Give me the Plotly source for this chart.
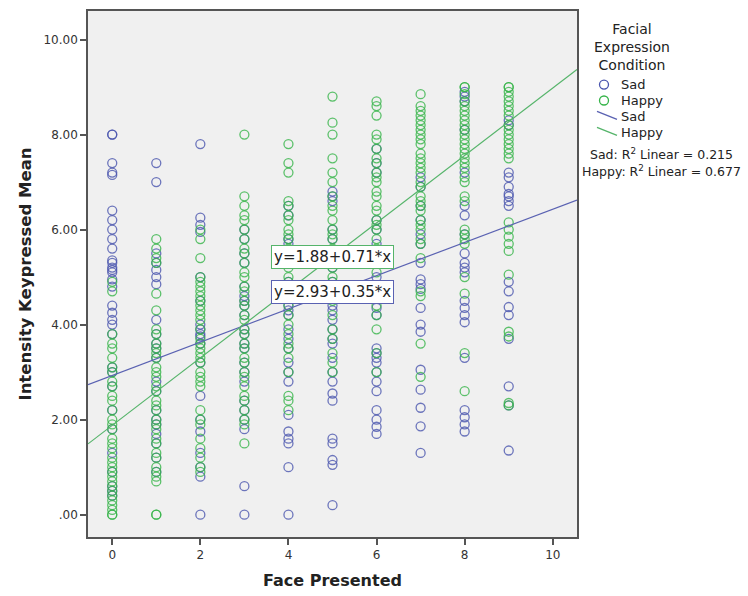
import plotly.graph_objects as go

# ---------------- data ----------------
face_levels = [0, 1, 2, 3, 4, 5, 6, 7, 8, 9]

sad_values = [
    [8.0, 8.0, 7.4, 7.2, 7.15, 6.4, 6.2, 6.0, 5.8, 5.6, 5.35, 5.3, 5.2, 5.15, 5.1, 4.95, 4.8, 4.4,
     4.25, 4.1, 4.0, 3.8, 3.1, 3.0, 2.7, 2.2, 1.8, 1.3, 0.9, 0.6, 0.5, 0.4],
    [7.4, 7.0, 5.5, 5.3, 5.15, 5.0, 4.85, 4.1, 3.8, 3.6, 3.5, 3.3, 2.8, 2.6, 2.2, 2.0, 1.9, 1.7,
     1.5, 1.2, 0.9],
    [7.8, 6.25, 6.1, 5.95, 5.0, 4.5, 4.0, 3.9, 3.8, 3.75, 3.6, 3.2, 2.5, 2.0, 1.75, 1.3, 1.0, 0.8, 0.0],
    [6.0, 5.8, 5.5, 5.3, 4.8, 4.6, 4.5, 4.4, 4.2, 3.9, 3.8, 3.6, 3.5, 3.2, 3.0, 2.8, 2.4, 2.2, 2.0,
     1.8, 0.6, 0.0],
    [6.5, 6.3, 5.8, 5.7, 5.5, 5.3, 4.9, 4.8, 4.6, 4.4, 4.3, 4.2, 3.9, 3.7, 3.5, 3.2, 3.0, 2.8, 2.1,
     1.75, 1.6, 1.5, 1.0, 0.0],
    [6.8, 6.7, 6.6, 6.0, 5.8, 5.4, 5.2, 4.9, 4.4, 4.3, 4.1, 3.9, 3.7, 3.6, 3.3, 3.0, 2.8, 2.55, 2.4,
     1.6, 1.5, 1.15, 1.05, 0.2],
    [7.7, 7.4, 7.2, 6.2, 6.0, 5.7, 5.5, 5.0, 4.8, 4.6, 4.35, 4.2, 3.5, 3.4, 3.3, 3.2, 3.0, 2.8, 2.6,
     2.2, 2.0, 1.85, 1.7],
    [7.1, 6.9, 6.5, 6.2, 5.9, 5.7, 5.3, 4.95, 4.85, 4.75, 4.35, 4.0, 3.85, 3.05, 2.63, 2.25, 1.86, 1.3],
    [8.9, 8.8, 8.7, 8.1, 7.2, 6.5, 6.3, 5.9, 5.5, 5.3, 5.2, 5.1, 4.5, 4.35, 4.2, 4.05, 3.3, 2.2, 2.05,
     1.9, 1.75],
    [8.3, 8.2, 7.2, 7.1, 6.9, 6.75, 6.7, 6.6, 6.5, 4.9, 4.7, 4.37, 4.2, 3.7, 2.7, 2.3, 1.35],
]

happy_values = [
    [4.9, 4.7, 3.8, 3.6, 3.5, 3.3, 3.1, 3.0, 2.8, 2.7, 2.5, 2.4, 2.2, 2.0, 1.9, 1.8, 1.6, 1.5, 1.4,
     1.2, 1.1, 1.0, 0.9, 0.8, 0.7, 0.6, 0.5, 0.4, 0.3, 0.2, 0.1, 0.0, 0.0],
    [5.8, 5.6, 5.4, 5.3, 4.65, 4.3, 3.9, 3.8, 3.6, 3.5, 3.4, 3.3, 3.1, 3.0, 2.9, 2.7, 2.6, 2.4, 2.3,
     2.2, 2.0, 1.9, 1.8, 1.6, 1.5, 1.3, 1.2, 1.0, 0.9, 0.8, 0.7, 0.0, 0.0],
    [6.0, 5.8, 5.4, 5.0, 4.9, 4.8, 4.7, 4.6, 4.5, 4.4, 4.3, 4.2, 4.1, 3.9, 3.7, 3.6, 3.5, 3.4, 3.3,
     3.2, 3.0, 2.9, 2.8, 2.7, 2.2, 2.0, 1.9, 1.6, 1.4, 1.2, 1.0, 0.9],
    [8.0, 6.7, 6.5, 6.3, 6.2, 6.0, 5.8, 5.6, 5.5, 5.3, 5.1, 5.0, 4.8, 4.7, 4.5, 4.4, 4.2, 4.1, 3.9,
     3.8, 3.6, 3.5, 3.3, 3.2, 3.0, 2.9, 2.7, 2.5, 2.4, 2.2, 2.0, 1.9, 1.5],
    [7.8, 7.4, 7.2, 6.6, 6.5, 6.3, 6.2, 6.0, 5.9, 5.8, 5.6, 5.5, 5.3, 5.2, 5.0, 4.9, 4.7, 4.6, 4.4,
     4.2, 4.0, 3.8, 3.6, 3.5, 3.3, 3.0, 2.5, 2.4, 2.2],
    [8.8, 8.25, 8.0, 7.5, 7.2, 7.0, 6.7, 6.5, 6.4, 6.2, 6.0, 5.9, 5.8, 5.6, 5.5, 5.3, 5.2, 5.0, 4.9,
     4.8, 4.6, 4.5, 4.2, 3.9, 3.7, 3.4, 3.2, 3.0],
    [8.7, 8.6, 8.4, 8.0, 7.9, 7.7, 7.5, 7.4, 7.2, 7.1, 7.0, 6.8, 6.7, 6.5, 6.4, 6.2, 6.1, 6.0, 5.8,
     5.6, 5.5, 5.3, 5.1, 4.8, 4.6, 4.4, 4.2, 3.9, 3.4, 3.0],
    [8.85, 8.6, 8.5, 8.4, 8.3, 8.2, 8.1, 8.0, 7.9, 7.8, 7.6, 7.5, 7.4, 7.3, 7.2, 7.0, 6.9, 6.7, 6.6,
     6.5, 6.4, 6.2, 6.1, 6.0, 5.8, 5.7, 5.4, 4.7, 4.6, 3.6, 2.9],
    [9.0, 9.0, 8.85, 8.7, 8.6, 8.5, 8.4, 8.3, 8.2, 8.1, 8.0, 7.9, 7.8, 7.7, 7.6, 7.5, 7.4, 7.3, 7.1,
     7.0, 6.7, 6.6, 6.0, 5.9, 5.8, 5.7, 5.0, 4.65, 3.4, 2.6],
    [9.0, 9.0, 8.9, 8.8, 8.7, 8.6, 8.5, 8.4, 8.2, 8.1, 8.0, 7.9, 7.8, 7.7, 7.6, 7.5, 6.15, 6.0, 5.85,
     5.7, 5.55, 5.05, 3.85, 3.75, 2.35, 2.3],
]

sad_intercept, sad_slope = 2.93, 0.35
happy_intercept, happy_slope = 1.88, 0.71
sad_r2 = 0.215
happy_r2 = 0.677

x_range = [-0.55, 10.55]
y_range = [-0.47, 10.6]
x_ticks = [0, 2, 4, 6, 8, 10]
y_ticks = [0, 2, 4, 6, 8, 10]
y_tick_text = [".00", "2.00", "4.00", "6.00", "8.00", "10.00"]
label_x = 5
legend_title = "Facial<br>Expression<br>Condition"
group_names = ["Sad", "Happy"]

SAD_C = "#4a55ae"
HAPPY_C = "#36b449"
SAD_LINE = "#5a62b2"
HAPPY_LINE = "#55b46a"
FONT = "DejaVu Sans"

W, H = 748, 596
ML, MR, MT, MB = 88, 171, 9, 58
PW, PH = W - ML - MR, H - MT - MB


def px(xp):   # page pixel -> paper x
    return (xp - ML) / PW


def py(yp):   # page pixel -> paper y
    return (H - MB - yp) / PH


def flatten(values):
    xs, ys = [], []
    for lvl, vals in zip(face_levels, values):
        xs += [lvl] * len(vals)
        ys += vals
    return xs, ys


sx, sy = flatten(sad_values)
hx, hy = flatten(happy_values)

fig = go.Figure()
fig.add_trace(go.Scatter(x=sx, y=sy, mode="markers", name="Sad",
                         marker=dict(symbol="circle-open", size=9, color=SAD_C,
                                     opacity=0.8, line=dict(width=1.3, color=SAD_C))))
fig.add_trace(go.Scatter(x=hx, y=hy, mode="markers", name="Happy",
                         marker=dict(symbol="circle-open", size=9, color=HAPPY_C,
                                     opacity=0.8, line=dict(width=1.3, color=HAPPY_C))))
fig.add_trace(go.Scatter(x=x_range, y=[sad_intercept + sad_slope * v for v in x_range],
                         mode="lines", name="Sad", line=dict(color=SAD_LINE, width=1.2)))
fig.add_trace(go.Scatter(x=x_range, y=[happy_intercept + happy_slope * v for v in x_range],
                         mode="lines", name="Happy", line=dict(color=HAPPY_LINE, width=1.2)))

# equation labels on the fit lines
fig.add_annotation(x=label_x, y=happy_intercept + happy_slope * label_x, xref="x", yref="y",
                   text=f"y={happy_intercept:.2f}+{happy_slope:.2f}*x", showarrow=False,
                   bgcolor="white", bordercolor=HAPPY_LINE, borderwidth=1, borderpad=2,
                   font=dict(family=FONT, size=15, color="#222"))
fig.add_annotation(x=label_x, y=sad_intercept + sad_slope * label_x, xref="x", yref="y",
                   text=f"y={sad_intercept:.2f}+{sad_slope:.2f}*x", showarrow=False,
                   bgcolor="white", bordercolor=SAD_LINE, borderwidth=1, borderpad=2,
                   font=dict(family=FONT, size=15, color="#222"))

# ---------- legend (drawn manually, SPSS style) ----------
fig.add_annotation(x=px(632), y=py(45), xref="paper", yref="paper", xanchor="center",
                   yanchor="middle", align="center", text=legend_title, showarrow=False,
                   font=dict(family=FONT, size=14, color="#222"))

legend_colors = [SAD_C, HAPPY_C]
line_colors = [SAD_LINE, HAPPY_LINE]
marker_rows = [83, 99]
line_rows = [115, 131]
for name, col, yy in zip(group_names, legend_colors, marker_rows):
    fig.add_shape(type="circle", xref="paper", yref="paper", xsizemode="pixel",
                  ysizemode="pixel", xanchor=px(604), yanchor=py(yy),
                  x0=-4.5, x1=4.5, y0=-4.5, y1=4.5, line=dict(color=col, width=1.3))
    fig.add_annotation(x=px(619), y=py(yy), xref="paper", yref="paper", xanchor="left",
                       yanchor="middle", text=name, showarrow=False,
                       font=dict(family=FONT, size=13, color="#222"))
for name, col, yy in zip(group_names, line_colors, line_rows):
    fig.add_shape(type="line", xref="paper", yref="paper",
                  x0=px(597), y0=py(yy - 5), x1=px(617), y1=py(yy + 3),
                  line=dict(color=col, width=1.3))
    fig.add_annotation(x=px(619), y=py(yy), xref="paper", yref="paper", xanchor="left",
                       yanchor="middle", text=name, showarrow=False,
                       font=dict(family=FONT, size=13, color="#222"))

fig.add_annotation(x=px(661), y=py(153), xref="paper", yref="paper", xanchor="center",
                   yanchor="middle", text=f"Sad: R<sup>2</sup> Linear = {sad_r2:.3f}",
                   showarrow=False, font=dict(family=FONT, size=12.5, color="#222"))
fig.add_annotation(x=px(661), y=py(170), xref="paper", yref="paper", xanchor="center",
                   yanchor="middle", text=f"Happy: R<sup>2</sup> Linear = {happy_r2:.3f}",
                   showarrow=False, font=dict(family=FONT, size=12.5, color="#222"))

axis_common = dict(showline=True, linecolor="#555", linewidth=1.5, mirror=True,
                   showgrid=False, zeroline=False, ticks="outside", ticklen=6,
                   tickcolor="#555", tickwidth=1.5,
                   tickfont=dict(family=FONT, size=12, color="#333"))

fig.update_layout(
    width=W, height=H,
    margin=dict(l=ML, r=MR, t=MT, b=MB),
    paper_bgcolor="white", plot_bgcolor="#f0f0f0",
    font=dict(family=FONT, color="#222"),
    xaxis=dict(range=x_range, tickvals=x_ticks, **axis_common,
               title=dict(text="<b>Face Presented</b>", standoff=14,
                          font=dict(family=FONT, size=16, color="#222"))),
    yaxis=dict(range=y_range, tickvals=y_ticks, ticktext=y_tick_text, **axis_common,
               title=dict(text="<b>Intensity Keypressed Mean</b>", standoff=8,
                          font=dict(family=FONT, size=16.5, color="#222"))),
    showlegend=False,
)

fig.write_html("out.html")
